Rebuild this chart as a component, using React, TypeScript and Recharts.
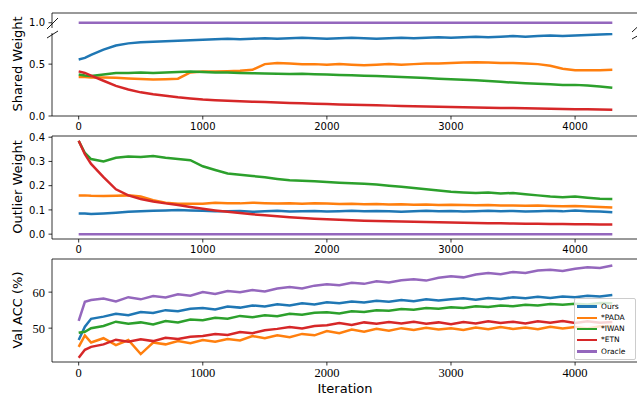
import { LineChart, Line, XAxis, YAxis, ReferenceLine, Legend } from "recharts";

// iterations sampled from the training curves
const iterations = [
  0, 50, 100, 200, 300, 400, 500, 600, 700, 800,
  900, 1000, 1100, 1200, 1300, 1400, 1500, 1600, 1700, 1800,
  1900, 2000, 2100, 2200, 2300, 2400, 2500, 2600, 2700, 2800,
  2900, 3000, 3100, 3200, 3300, 3400, 3500, 3600, 3700, 3800,
  3900, 4000, 4100, 4200, 4300,
];

const seriesNames = ["Ours", "*PADA", "*IWAN", "*ETN", "Oracle"];
const seriesColors = ["#1f77b4", "#ff7f0e", "#2ca02c", "#d62728", "#9467bd"];
const xTicks = [0, 1000, 2000, 3000, 4000];
const xDomain: [number, number] = [-215, 4515];

// shared weight
const sharedOurs = [
  0.545, 0.56, 0.59, 0.64, 0.68, 0.70, 0.71, 0.715, 0.72, 0.725,
  0.73, 0.735, 0.74, 0.745, 0.74, 0.745, 0.75, 0.745, 0.75, 0.755,
  0.75, 0.745, 0.75, 0.755, 0.75, 0.745, 0.75, 0.755, 0.75, 0.755,
  0.76, 0.755, 0.76, 0.765, 0.76, 0.765, 0.77, 0.765, 0.77, 0.775,
  0.77, 0.775, 0.78, 0.785, 0.79,
];
const sharedPada = [
  0.375, 0.375, 0.37, 0.37, 0.368, 0.362, 0.356, 0.352, 0.355, 0.36,
  0.42, 0.43, 0.43, 0.432, 0.436, 0.445, 0.50, 0.51, 0.505, 0.50,
  0.50, 0.495, 0.50, 0.495, 0.49, 0.495, 0.50, 0.495, 0.50, 0.505,
  0.505, 0.51, 0.515, 0.518, 0.515, 0.512, 0.51, 0.505, 0.50, 0.485,
  0.455, 0.44, 0.44, 0.442, 0.445,
];
const sharedIwan = [
  0.40, 0.39, 0.385, 0.40, 0.415, 0.415, 0.42, 0.415, 0.42, 0.425,
  0.43, 0.425, 0.42, 0.42, 0.415, 0.412, 0.41, 0.408, 0.405, 0.408,
  0.403, 0.40, 0.395, 0.392, 0.388, 0.385, 0.38, 0.376, 0.372, 0.366,
  0.36, 0.355, 0.35, 0.345, 0.338, 0.33, 0.322, 0.315, 0.31, 0.305,
  0.30, 0.30, 0.295, 0.285, 0.272,
];
const sharedEtn = [
  0.43, 0.415, 0.39, 0.34, 0.29, 0.255, 0.228, 0.21, 0.195, 0.18,
  0.168, 0.158, 0.152, 0.147, 0.142, 0.138, 0.134, 0.13, 0.126, 0.122,
  0.118, 0.115, 0.112, 0.109, 0.106, 0.103, 0.10, 0.097, 0.094, 0.091,
  0.088, 0.086, 0.084, 0.082, 0.08, 0.078, 0.076, 0.074, 0.072, 0.07,
  0.068, 0.066, 0.064, 0.062, 0.06,
];
const sharedOracle = [
  1, 1, 1, 1, 1, 1, 1, 1, 1, 1,
  1, 1, 1, 1, 1, 1, 1, 1, 1, 1,
  1, 1, 1, 1, 1, 1, 1, 1, 1, 1,
  1, 1, 1, 1, 1, 1, 1, 1, 1, 1,
  1, 1, 1, 1, 1,
];

// outlier weight
const outlierOurs = [
  0.085, 0.085, 0.083, 0.085, 0.088, 0.092, 0.095, 0.097, 0.098, 0.10,
  0.098, 0.097, 0.095, 0.094, 0.096, 0.092, 0.095, 0.097, 0.093, 0.095,
  0.096, 0.093, 0.095, 0.097, 0.094, 0.096, 0.094, 0.092, 0.095, 0.097,
  0.094, 0.096, 0.093, 0.095, 0.097, 0.094, 0.096, 0.093, 0.095, 0.097,
  0.094, 0.098, 0.095, 0.093, 0.09,
];
const outlierPada = [
  0.16, 0.16, 0.158, 0.157, 0.158, 0.16, 0.155, 0.14, 0.13, 0.125,
  0.125, 0.125, 0.13, 0.128, 0.127, 0.13, 0.128, 0.126, 0.128, 0.125,
  0.127, 0.126, 0.124, 0.125, 0.123, 0.124, 0.122, 0.123, 0.121, 0.122,
  0.12, 0.121, 0.12, 0.119, 0.12, 0.118, 0.118, 0.117, 0.118, 0.116,
  0.115, 0.116, 0.114, 0.112, 0.11,
];
const outlierIwan = [
  0.385, 0.335, 0.31, 0.30, 0.315, 0.32, 0.318, 0.322, 0.315, 0.31,
  0.305, 0.28, 0.265, 0.25, 0.245, 0.24, 0.235, 0.228, 0.222, 0.22,
  0.218, 0.215, 0.212, 0.21, 0.208, 0.205, 0.20, 0.196, 0.19, 0.185,
  0.18, 0.175, 0.172, 0.17, 0.172, 0.168, 0.17, 0.165, 0.16, 0.155,
  0.152, 0.155, 0.15, 0.146, 0.145,
];
const outlierEtn = [
  0.385, 0.33, 0.29, 0.235, 0.185, 0.16, 0.145, 0.135, 0.127, 0.12,
  0.112, 0.105, 0.098, 0.092, 0.087, 0.082, 0.078, 0.074, 0.07, 0.067,
  0.064, 0.061, 0.059, 0.057, 0.055, 0.054, 0.053, 0.052, 0.051, 0.05,
  0.049, 0.048, 0.047, 0.046, 0.045, 0.045, 0.044, 0.043, 0.043, 0.042,
  0.042, 0.041, 0.041, 0.04, 0.04,
];
const outlierOracle = [
  0, 0, 0, 0, 0, 0, 0, 0, 0, 0,
  0, 0, 0, 0, 0, 0, 0, 0, 0, 0,
  0, 0, 0, 0, 0, 0, 0, 0, 0, 0,
  0, 0, 0, 0, 0, 0, 0, 0, 0, 0,
  0, 0, 0, 0, 0,
];

// validation accuracy (%)
const accOurs = [
  46.7, 50.4, 52.6, 53.2, 54.0, 53.6, 54.5, 54.2, 55.0, 54.7,
  55.4, 55.6, 55.2, 56.0, 55.7, 56.3, 56.0, 56.6, 56.3, 56.9,
  56.6, 57.2, 56.9, 57.4, 57.1, 57.6, 57.3, 57.8, 57.5, 58.0,
  57.7, 58.0, 58.3, 57.9, 58.4, 58.1, 58.6, 58.3, 58.7, 58.4,
  58.8, 58.6, 59.0, 58.8, 59.2,
];
const accPada = [
  44.8, 48.0, 46.0, 47.2, 45.3, 46.7, 42.8, 46.0, 45.5, 46.4,
  45.8, 46.7, 46.2, 47.0, 46.6, 47.8, 47.2, 48.0, 47.5, 48.4,
  48.0, 49.2, 48.6, 49.6, 49.0, 49.8, 49.3, 50.0, 49.5, 50.1,
  49.6, 50.0, 49.5, 50.2, 49.7, 50.3, 49.8, 50.2, 49.7, 50.4,
  49.9, 50.3, 49.9, 50.5, 50.6,
];
const accIwan = [
  48.7, 49.0, 50.0, 50.6, 51.8, 51.2, 51.6, 51.0, 52.0, 51.6,
  52.4, 52.2, 52.9, 52.6, 53.4, 53.0, 53.6, 53.3, 54.0, 53.7,
  54.3, 54.4, 54.1, 54.7, 54.5, 55.0, 54.8, 55.3, 55.1, 55.6,
  55.4, 55.8, 55.6, 56.1, 55.9, 56.3, 56.1, 56.5, 56.3, 56.7,
  56.5, 56.8, 56.6, 57.0, 56.9,
];
const accEtn = [
  41.8, 44.0, 44.8, 45.5, 46.8, 46.2, 46.9, 46.4, 47.3, 47.0,
  47.6, 47.8, 48.4, 48.1, 48.9, 48.6, 49.4, 49.8, 50.3, 49.9,
  50.6, 50.8, 51.4, 50.9, 51.6, 51.2, 51.7, 51.3, 51.8, 51.2,
  51.6, 51.1, 51.7, 51.3, 51.9, 51.4, 51.8, 51.3, 51.9, 51.5,
  52.0, 51.4, 51.9, 51.5, 51.7,
];
const accOracle = [
  52.0, 57.3, 57.8, 58.2, 57.4, 58.6, 58.0, 58.9, 58.5, 59.4,
  59.0, 60.0, 59.5, 60.3, 60.0, 60.6, 60.2, 61.0, 61.4, 61.0,
  61.8, 62.2, 61.9, 62.6, 62.3, 63.0, 62.7, 63.3, 63.6, 63.2,
  64.0, 64.4, 64.1, 64.9, 65.3, 65.0, 65.6, 65.3, 66.0, 66.2,
  65.9, 66.5, 66.9, 66.7, 67.4,
];

const SANS = "DejaVu Sans";
const SERIF = "Liberation Serif";

function buildRows(cols: number[][]) {
  return iterations.map((it, i) => {
    const row: Record<string, number> = { it };
    cols.forEach((c, k) => {
      row["s" + k] = c[i];
    });
    return row;
  });
}

const renderLegend = (props: any) => (
  <div
    style={{
      background: "rgba(255,255,255,0.8)",
      border: "0.8px solid #ccc",
      borderRadius: 2,
      padding: "2px 0 2px 2px",
      boxSizing: "border-box",
      width: 62,
    }}
  >
    {(props.payload || []).map((p: any) => (
      <div key={p.value} style={{ display: "flex", alignItems: "center", height: 11.2 }}>
        <span style={{ display: "inline-block", width: 20, height: 2.5, background: p.color, marginRight: 4 }} />
        <span style={{ fontSize: 7.5, fontFamily: SANS, color: "#000", lineHeight: 1 }}>{p.value}</span>
      </div>
    ))}
  </div>
);

// tick text drawn by hand so the font family really sticks
function makeTick(axis: "x" | "y", font: string, size: number, fmt: (v: number) => string) {
  return (props: any) => {
    const { x, y, payload } = props;
    return (
      <text
        x={x}
        y={y}
        dy={axis === "x" ? "0.72em" : "0.36em"}
        textAnchor={axis === "x" ? "middle" : "end"}
        fontFamily={font}
        fontSize={size}
        fill="#000"
      >
        {fmt(payload.value)}
      </text>
    );
  };
}

type PanelProps = {
  cols: number[][];
  top: number;
  plotH: number;
  yDomain: [number, number];
  yTicks: number[];
  fmt: (v: number) => string;
  showX: boolean;
  topSpine: boolean;
  font: string;
  legend?: boolean;
};

function Panel({ cols, top, plotH, yDomain, yTicks, fmt, showX, topSpine, font, legend }: PanelProps) {
  const data = buildRows(cols);
  const size = font === SERIF ? 12.5 : 10;
  const spine = { stroke: "#000", strokeWidth: 0.8 };
  const mTop = 5;
  const xH = showX ? 25 : 0;
  return (
    <div style={{ position: "absolute", left: 0, top: top - mTop }}>
      <LineChart
        width={640}
        height={mTop + plotH + xH}
        data={data}
        margin={{ top: mTop, right: 1, bottom: 0, left: 0 }}
      >
        <XAxis
          dataKey="it"
          type="number"
          domain={xDomain}
          ticks={xTicks}
          interval={0}
          hide={!showX}
          height={xH}
          tick={makeTick("x", font, size, (v) => String(v))}
          tickLine={spine}
          axisLine={spine}
          tickSize={3.5}
          tickMargin={font === SERIF ? 2.5 : 3.5}
          allowDataOverflow
        />
        <YAxis
          type="number"
          domain={yDomain}
          ticks={yTicks}
          interval={0}
          width={52}
          tick={makeTick("y", font, size, fmt)}
          tickLine={spine}
          axisLine={spine}
          tickSize={3.5}
          tickMargin={3.5}
          allowDataOverflow
        />
        {topSpine && <ReferenceLine y={yDomain[1]} stroke="#000" strokeWidth={0.8} />}
        {seriesNames.map((n, k) => (
          <Line
            key={n}
            type="linear"
            dataKey={"s" + k}
            name={n}
            stroke={seriesColors[k]}
            strokeWidth={2.5}
            dot={false}
            isAnimationActive={false}
          />
        ))}
        {legend && (
          <Legend
            layout="vertical"
            align="center"
            verticalAlign="middle"
            content={renderLegend}
            itemSorter={(item: any) => seriesNames.indexOf(item.value)}
            wrapperStyle={{ left: 574, top: 298 - (top - mTop), width: 62, height: "auto" }}
          />
        )}
      </LineChart>
    </div>
  );
}

const fmt1 = (v: number) => v.toFixed(1);
const fmt0 = (v: number) => v.toFixed(0);

export default function App() {
  const sharedCols = [sharedOurs, sharedPada, sharedIwan, sharedEtn, sharedOracle];
  const outlierCols = [outlierOurs, outlierPada, outlierIwan, outlierEtn, outlierOracle];
  const accCols = [accOurs, accPada, accIwan, accEtn, accOracle];
  const mark = { stroke: "#000", strokeWidth: 0.9 };
  return (
    <div
      style={{
        position: "fixed",
        left: 0,
        top: 0,
        width: 637,
        height: 395,
        overflow: "hidden",
        background: "#fff",
        fontFamily: SANS,
      }}
    >
      {/* broken axis: upper and lower parts of the shared weight plot */}
      <Panel cols={sharedCols} top={13} plotH={15} yDomain={[0.965, 1.065]} yTicks={[1]} fmt={fmt1} showX={false} topSpine font={SANS} />
      <Panel cols={sharedCols} top={33} plotH={83} yDomain={[0, 0.8]} yTicks={[0, 0.5]} fmt={fmt1} showX topSpine={false} font={SANS} />
      <Panel cols={outlierCols} top={136} plotH={103} yDomain={[-0.02, 0.405]} yTicks={[0, 0.1, 0.2, 0.3, 0.4]} fmt={fmt1} showX topSpine font={SANS} />
      <Panel cols={accCols} top={259} plotH={103} yDomain={[40.6, 69.2]} yTicks={[50, 60]} fmt={fmt0} showX topSpine font={SERIF} legend />

      <svg width={637} height={395} style={{ position: "absolute", left: 0, top: 0, pointerEvents: "none" }}>
        <g fontFamily={SANS} fontSize={13} fill="#000" textAnchor="middle">
          <text transform="translate(17,64) rotate(-90)" dominantBaseline="central">Shared Weight</text>
          <text transform="translate(17,187) rotate(-90)" dominantBaseline="central">Outlier Weight</text>
          <text transform="translate(17,310) rotate(-90)" dominantBaseline="central">Val ACC (%)</text>
          <text x={345} y={388} dominantBaseline="central">Iteration</text>
        </g>
        <line x1={47} y1={29} x2={58} y2={18} {...mark} />
        <line x1={47} y1={38} x2={58} y2={31} {...mark} />
        <line x1={632} y1={32} x2={646} y2={19} {...mark} />
        <line x1={632} y1={39} x2={646} y2={31} {...mark} />
      </svg>
    </div>
  );
}
